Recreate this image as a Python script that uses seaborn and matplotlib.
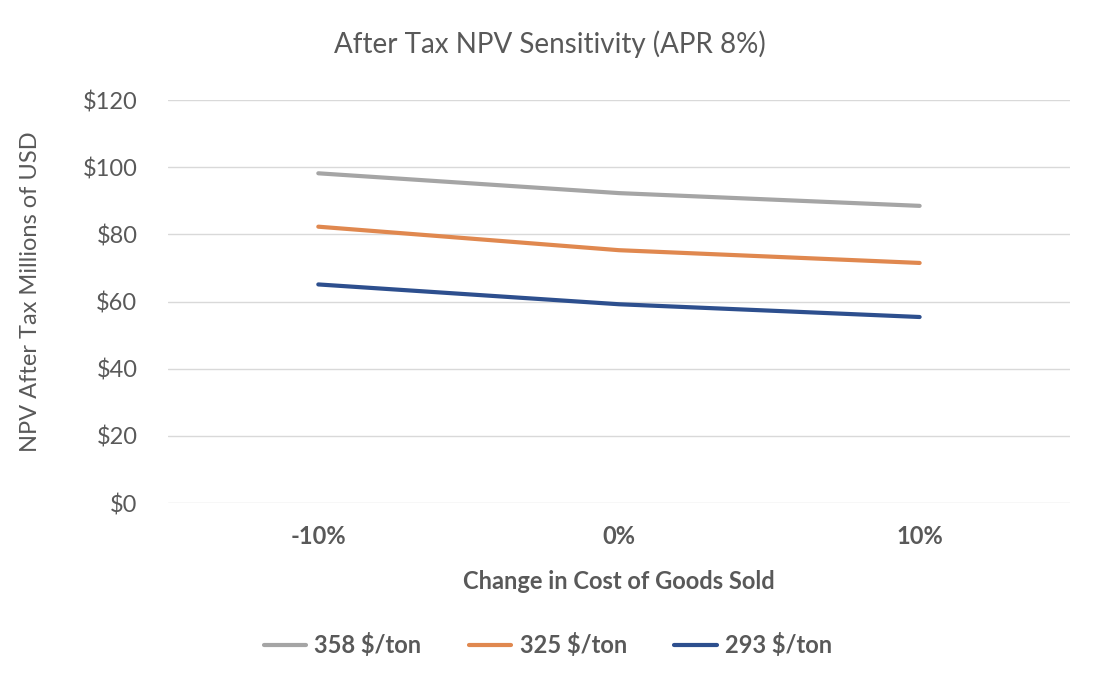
import matplotlib
matplotlib.use("Agg")
import matplotlib.pyplot as plt
import seaborn as sns
import pandas as pd
from matplotlib.ticker import FuncFormatter

categories = ["-10%", "0%", "10%"]
series_names = ["358 $/ton", "325 $/ton", "293 $/ton"]
s358 = [98.2, 92.3, 88.5]
s325 = [82.3, 75.3, 71.5]
s293 = [65.1, 59.2, 55.4]
colors = ["#A5A5A5", "#E0884F", "#2D4F8E"]

rows = []
for name, vals in zip(series_names, [s358, s325, s293]):
    for i, (c, v) in enumerate(zip(categories, vals)):
        rows.append({"pos": i, "cat": c, "series": name, "value": v})
df = pd.DataFrame(rows)

sns.set_theme(style="white")
plt.rcParams['font.family'] = ['Lato', 'DejaVu Sans']
txt = "#595959"

fig = plt.figure(figsize=(11, 7), dpi=100)
ax = fig.add_axes([0.1527, 0.2814, 0.82, 0.5756])
sns.lineplot(data=df, x="pos", y="value", hue="series", hue_order=series_names,
             palette=colors, linewidth=3, ax=ax, legend=True)

ax.set_xlim(-0.5, 2.5)
ax.set_ylim(0, 120)
ax.set_yticks(range(0, 121, 20))
ax.yaxis.set_major_formatter(FuncFormatter(lambda v, p: f"${int(v)}"))
ax.set_xticks(range(len(categories)))
ax.set_xticklabels(categories, fontweight="bold")
ax.tick_params(axis="both", length=0, labelsize=17, colors=txt)
ax.tick_params(axis="x", pad=16)
ax.tick_params(axis="y", pad=22)
ax.grid(axis="y", color="#D9D9D9", linewidth=1)
for s in ax.spines.values():
    s.set_visible(False)
ax.set_axisbelow(True)

ax.set_xlabel("Change in Cost of Goods Sold", fontsize=17, fontweight="bold", color=txt, labelpad=16)
ax.set_ylabel("NPV After Tax Millions of USD", fontsize=17, color=txt)
ax.yaxis.label.set_verticalalignment("center")
ax.yaxis.set_label_coords(31 / 1100, (700 - 292) / 700, transform=fig.transFigure)
fig.suptitle("After Tax NPV Sensitivity (APR 8%)", fontsize=20, color=txt, y=0.957)

handles, labels = ax.get_legend_handles_labels()
ax.legend(handles, labels, loc="center", bbox_to_anchor=(0.498, 0.078), bbox_transform=fig.transFigure,
          ncol=3, frameon=False, handlelength=1.8, handletextpad=0.35, columnspacing=2.0,
          prop={"weight": "bold", "size": 17})
for t in ax.get_legend().get_texts():
    t.set_color(txt)

fig.savefig("out.png", dpi=100)
